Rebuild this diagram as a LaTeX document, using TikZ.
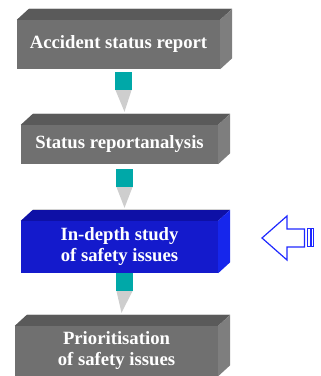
\documentclass[tikz,border=0pt]{standalone}
\usepackage{fontspec}
\setmainfont{Liberation Serif}
\usetikzlibrary{calc}

\definecolor{boxfront}{RGB}{112,112,112}
\definecolor{boxtop}{RGB}{90,90,90}
\definecolor{boxside}{RGB}{126,126,126}
\definecolor{bluefront}{RGB}{20,26,204}
\definecolor{bluetop}{RGB}{14,16,166}
\definecolor{blueside}{RGB}{22,38,236}
\definecolor{linkteal}{RGB}{0,168,168}
\definecolor{linkgrey}{RGB}{206,206,206}
\definecolor{pointblue}{RGB}{30,40,255}

\begin{document}
\begin{tikzpicture}[x=1pt, y=1pt,
    stage/.style={rectangle, fill=boxfront, text=white, inner sep=0pt, align=center,
      font=\fontsize{18.7}{21}\selectfont\bfseries},
    hotstage/.style={stage, fill=bluefront}]
    \useasboundingbox (0,0) rectangle (321,376);
    \node[stage, minimum width=203pt, minimum height=49pt] (report) at (118.5,331.5) {Accident status report};
    \node[stage, minimum width=197pt, minimum height=39pt] (analysis) at (119.5,231.5) {Status reportanalysis};
    \node[hotstage, minimum width=197pt, minimum height=52pt] (study) at (119.5,129) {In-depth study\\of safety issues};
    \node[stage, minimum width=203pt, minimum height=50pt] (prio) at (116.5,25) {Prioritisation\\of safety issues};
    % top and side faces
    \foreach \n/\t/\s in {report/boxtop/boxside, analysis/boxtop/boxside, study/bluetop/blueside, prio/boxtop/boxside} {
        \fill[\t] (\n.north west) -- ++(12,11) -- ($(\n.north east)+(12,11)$) -- (\n.north east) -- cycle;
        \fill[\s] (\n.north east) -- ++(12,11) -- ($(\n.south east)+(12,11)$) -- (\n.south east) -- cycle;
        \draw[gray!35, line width=0.8pt] ($(\n.north west)+(12,11)$) -- ($(\n.north east)+(12,11)$);
    }
    % links
    \foreach \a/\b/\g in {report/analysis/3, analysis/study/5, study/prio/0} {
        \fill[linkteal] ($(\a.south)+(-3.5,-\g)$) rectangle ++(17,-18);
        \fill[linkgrey] ($(\a.south)+(-3,-\g-18)$) -- ++(16,0) -- ($(\b.north)+(5,13)$) -- cycle;
    }
    % pointer
    \draw[pointblue, line width=1.2pt, line join=miter] (262,138) -- (287,160) -- (287,147) -- (304.5,147)
        -- (304.5,129) -- (287,129) -- (287,116) -- cycle;
    \draw[pointblue, line width=1pt] (307.5,147) rectangle (310,129);
    \draw[pointblue, line width=1pt] (311.5,147) rectangle (313,129);
\end{tikzpicture}
\end{document}
